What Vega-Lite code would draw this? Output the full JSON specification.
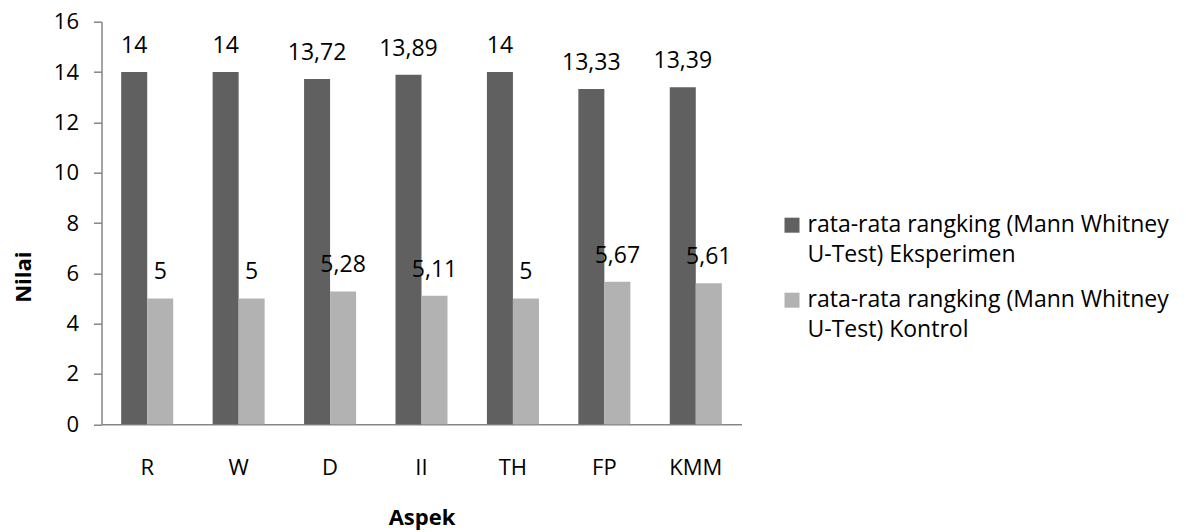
{
  "$schema": "https://vega.github.io/schema/vega-lite/v6.json",
  "width": 640,
  "height": 402.6,
  "autosize": "none",
  "padding": {"left": 101.5, "top": 21.7, "right": 444.5, "bottom": 107.7},
  "background": "white",
  "config": {
    "view": {"stroke": null},
    "font": "Open Sans",
    "locale": {"number": {"decimal": ",", "thousands": ".", "grouping": [3], "currency": ["", ""]}},
    "style": {"guide-label": {"lineHeight": 30}}
  },
  "data": {
    "values": [
      {"aspek": "R", "seri": "rata-rata rangking (Mann Whitney U-Test) Eksperimen", "nilai": 14},
      {"aspek": "R", "seri": "rata-rata rangking (Mann Whitney U-Test) Kontrol", "nilai": 5},
      {"aspek": "W", "seri": "rata-rata rangking (Mann Whitney U-Test) Eksperimen", "nilai": 14},
      {"aspek": "W", "seri": "rata-rata rangking (Mann Whitney U-Test) Kontrol", "nilai": 5},
      {"aspek": "D", "seri": "rata-rata rangking (Mann Whitney U-Test) Eksperimen", "nilai": 13.72},
      {"aspek": "D", "seri": "rata-rata rangking (Mann Whitney U-Test) Kontrol", "nilai": 5.28},
      {"aspek": "II", "seri": "rata-rata rangking (Mann Whitney U-Test) Eksperimen", "nilai": 13.89},
      {"aspek": "II", "seri": "rata-rata rangking (Mann Whitney U-Test) Kontrol", "nilai": 5.11},
      {"aspek": "TH", "seri": "rata-rata rangking (Mann Whitney U-Test) Eksperimen", "nilai": 14},
      {"aspek": "TH", "seri": "rata-rata rangking (Mann Whitney U-Test) Kontrol", "nilai": 5},
      {"aspek": "FP", "seri": "rata-rata rangking (Mann Whitney U-Test) Eksperimen", "nilai": 13.33},
      {"aspek": "FP", "seri": "rata-rata rangking (Mann Whitney U-Test) Kontrol", "nilai": 5.67},
      {"aspek": "KMM", "seri": "rata-rata rangking (Mann Whitney U-Test) Eksperimen", "nilai": 13.39},
      {"aspek": "KMM", "seri": "rata-rata rangking (Mann Whitney U-Test) Kontrol", "nilai": 5.61}
    ]
  },
  "encoding": {
    "x": {
      "field": "aspek", "type": "nominal", "sort": null,
      "scale": {"paddingInner": 0.431, "paddingOuter": 0.2155},
      "axis": {
        "title": "Aspek", "titleFontSize": 22, "titleFontWeight": "bold", "titleColor": "black",
        "titleBaseline": "middle", "titleY": 93,
        "labelAngle": 0, "labelFontSize": 22, "labelColor": "black", "labelPadding": 33,
        "ticks": false, "domainColor": "#868686", "domainWidth": 1.5
      }
    },
    "xOffset": {"field": "seri", "type": "nominal"},
    "y": {
      "field": "nilai", "type": "quantitative",
      "scale": {"domain": [0, 16], "nice": false},
      "axis": {
        "title": "Nilai", "titleFontSize": 22, "titleFontWeight": "bold", "titleColor": "black",
        "titleAngle": -90, "titleAlign": "center", "titleBaseline": "middle", "titleX": -78, "titleY": 255,
        "values": [0, 2, 4, 6, 8, 10, 12, 14, 16],
        "labelFontSize": 22, "labelColor": "black", "labelPadding": 15,
        "grid": false, "tickSize": 8, "tickColor": "#868686", "tickWidth": 1.5,
        "domainColor": "#868686", "domainWidth": 1.5
      }
    }
  },
  "layer": [
    {
      "mark": {"type": "bar"},
      "encoding": {
        "color": {
          "field": "seri", "type": "nominal",
          "scale": {"range": ["#606060", "#b2b2b2"]},
          "legend": {
            "title": null, "orient": "none", "legendX": 679, "legendY": 192,
            "symbolType": "square", "symbolSize": 225, "symbolStrokeWidth": 0,
            "labelFontSize": 23, "labelColor": "black", "labelLimit": 500,
            "labelExpr": "[slice(datum.label, 0, 32), slice(datum.label, 33)]",
            "rowPadding": 21, "labelOffset": 4
          }
        }
      }
    },
    {
      "mark": {"type": "text", "fontSize": 23, "color": "black", "baseline": "alphabetic", "dy": -19},
      "encoding": {
        "text": {"field": "nilai", "type": "quantitative", "format": ".2~f"}
      }
    }
  ]
}
